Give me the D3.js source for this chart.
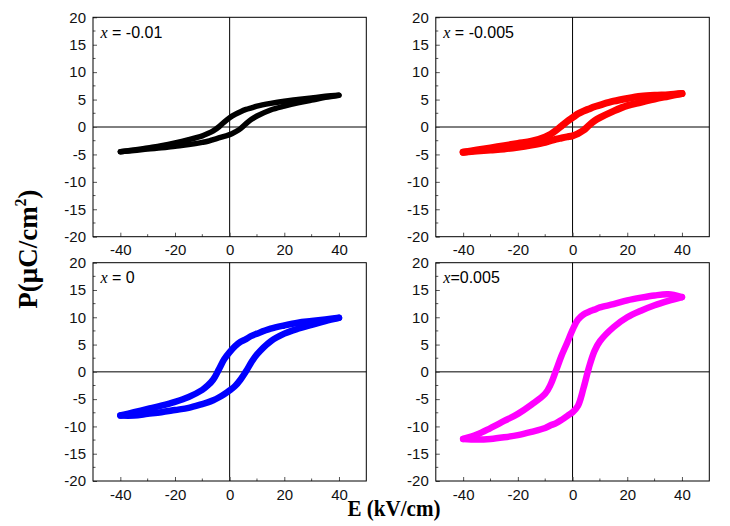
<!DOCTYPE html>
<html><head><meta charset="utf-8">
<script src="https://cdn.jsdelivr.net/npm/d3@7"></script>
<style>body{margin:0;background:#fff}svg{display:block}</style>
</head><body>
<script>
// ---- data ----
const eDown = [40,35,30,25,20,15,10,8,6,4,2,0,-2,-4,-6,-8,-10,-15,-20,-25,-30,-35,-40];
const eUp   = [-40,-35,-30,-25,-20,-15,-10,-8,-6,-4,-2,0,2,4,6,8,10,15,20,25,30,35,40];

const pDownA = [5.8,5.6,5.3,5.0,4.7,4.3,3.8,3.5,3.2,2.8,2.3,1.7,0.9,0.0,-0.7,-1.2,-1.6,-2.3,-2.9,-3.4,-3.8,-4.2,-4.5];
const pUpA   = [-4.5,-4.3,-4.0,-3.8,-3.5,-3.2,-2.8,-2.6,-2.3,-2.0,-1.7,-1.4,-0.9,-0.3,0.6,1.4,2.0,3.1,3.8,4.4,4.9,5.4,5.8];

const pDownB = [6.1,5.9,5.8,5.6,5.2,4.7,4.0,3.7,3.3,2.9,2.4,1.7,1.0,0.2,-0.6,-1.3,-1.8,-2.6,-3.0,-3.4,-3.8,-4.2,-4.6];
const pUpB   = [-4.6,-4.4,-4.2,-4.0,-3.7,-3.3,-2.8,-2.5,-2.2,-2.0,-1.8,-1.6,-1.2,-0.6,0.3,1.1,1.7,2.9,3.9,4.5,5.1,5.6,6.1];

const pDownC = [9.9,9.6,9.3,9.0,8.5,7.9,7.0,6.6,6.0,5.5,4.7,3.6,2.3,0.4,-1.4,-2.5,-3.3,-4.6,-5.5,-6.2,-6.8,-7.4,-8.0];
const pUpC   = [-8.0,-8.0,-7.7,-7.4,-7.0,-6.6,-5.9,-5.6,-5.2,-4.7,-4.1,-3.4,-2.6,-1.4,0.1,1.8,3.2,5.6,7.0,7.9,8.6,9.3,9.9];

const pDownD = [13.7,14.2,14.0,13.6,13.1,12.4,11.8,11.4,11.0,10.5,9.6,7.7,5.3,3.0,0.3,-2.3,-4.0,-6.0,-7.7,-9.0,-10.3,-11.5,-12.3];
const pUpD   = [-12.3,-12.4,-12.3,-12.0,-11.6,-11.0,-10.3,-9.8,-9.4,-8.8,-8.1,-7.4,-6.2,-3.0,0.8,3.8,5.6,8.2,10.0,11.2,12.2,13.0,13.7];

const panelLabels = ["= -0.01", "= -0.005", "= 0", "=0.005"];
const seriesColors = ["#000000", "#ff0000", "#0000ff", "#ff00ff"];
const xTicks = [-40,-20,0,20,40];
const xMinor = [-30,-10,10,30];
const yTicks = [-20,-15,-10,-5,0,5,10,15,20];
const yMinor = [-17.5,-12.5,-7.5,-2.5,2.5,7.5,12.5,17.5];
const xLabel = "E (kV/cm)";

// ---- layout ----
const W = 730, H = 526;
const svg = d3.select("body").append("svg").attr("width", W).attr("height", H);
const panels = [
  {x:93, y:17.3, w:273.3, h:219.4, down:pDownA, up:pUpA, sw:5.5},
  {x:435.8, y:17.3, w:273.5, h:219.4, down:pDownB, up:pUpB, sw:7},
  {x:93, y:262.7, w:273.3, h:218.3, down:pDownC, up:pUpC, sw:6.5},
  {x:435.8, y:262.7, w:273.5, h:218.3, down:pDownD, up:pUpD, sw:6.5}
];

const sans = "'Liberation Sans', Arial, sans-serif";
const serif = "'Liberation Serif', 'Times New Roman', serif";
const fmt = d => String(d);

panels.forEach((p, i) => {
  const g = svg.append("g").attr("transform", `translate(${p.x},${p.y})`);
  const x = d3.scaleLinear().domain([-50, 50]).range([0, p.w]);
  const y = d3.scaleLinear().domain([-20, 20]).range([p.h, 0]);

  // zero lines
  g.append("line").attr("x1", x(0)).attr("x2", x(0)).attr("y1", 0).attr("y2", p.h)
    .attr("stroke", "#000").attr("stroke-width", 1);
  g.append("line").attr("x1", 0).attr("x2", p.w).attr("y1", y(0)).attr("y2", y(0))
    .attr("stroke", "#000").attr("stroke-width", 1);

  // loop
  const line = d3.line().x(d => x(d[0])).y(d => y(d[1])).curve(d3.curveCatmullRom.alpha(0.5));
  const down = eDown.map((e, k) => [e, p.down[k]]);
  const up = eUp.map((e, k) => [e, p.up[k]]);
  [down, up].forEach(br => {
    g.append("path").attr("d", line(br)).attr("fill", "none")
      .attr("stroke", seriesColors[i]).attr("stroke-width", p.sw)
      .attr("stroke-linecap", "round").attr("stroke-linejoin", "round");
  });

  // axes (ticks inward)
  const xAxis = d3.axisBottom(x).tickValues(xTicks).tickSize(-4).tickPadding(8).tickFormat(fmt);
  const xa = g.append("g").attr("transform", `translate(0,${p.h})`).call(xAxis);
  const yAxis = d3.axisLeft(y).tickValues(yTicks).tickSize(-4).tickPadding(7).tickFormat(fmt);
  const ya = g.append("g").call(yAxis);
  [xa, ya].forEach(a => {
    a.select(".domain").remove();
    a.selectAll(".tick line").attr("stroke", "#555");
    a.selectAll(".tick text").attr("font-family", sans).attr("font-size", 15).attr("fill", "#111");
  });
  // minor ticks
  g.append("g").selectAll("line").data(xMinor).join("line")
    .attr("x1", d => x(d)).attr("x2", d => x(d)).attr("y1", p.h).attr("y2", p.h - 2.5)
    .attr("stroke", "#555");
  g.append("g").selectAll("line").data(yMinor).join("line")
    .attr("x1", 0).attr("x2", 2.5).attr("y1", d => y(d)).attr("y2", d => y(d))
    .attr("stroke", "#555");

  // frame
  g.append("rect").attr("x", 0).attr("y", 0).attr("width", p.w).attr("height", p.h)
    .attr("fill", "none").attr("stroke", "#000").attr("stroke-width", 1);

  // panel label
  const t = g.append("text").attr("x", 7.5).attr("y", 20.7).attr("font-size", 16).attr("fill", "#000");
  t.append("tspan").attr("font-family", serif).attr("font-style", "italic").text("x");
  t.append("tspan").attr("font-family", sans).text((i === 3 ? "" : " ") + panelLabels[i]);
});

// axis titles
const yt = svg.append("text").attr("transform", "translate(37,249) rotate(-90)")
  .attr("text-anchor", "middle").attr("font-family", serif).attr("font-weight", "bold")
  .attr("font-size", 27).attr("fill", "#000");
yt.append("tspan").text("P(μC/cm");
yt.append("tspan").attr("font-size", 16).attr("dy", -11).text("2");
yt.append("tspan").attr("dy", 11).text(")");

svg.append("text").attr("x", 394).attr("y", 516).attr("text-anchor", "middle")
  .attr("font-family", serif).attr("font-weight", "bold").attr("font-size", 24)
  .attr("textLength", 93).attr("lengthAdjust", "spacingAndGlyphs")
  .attr("fill", "#000").text(xLabel);
</script>
</body></html>
